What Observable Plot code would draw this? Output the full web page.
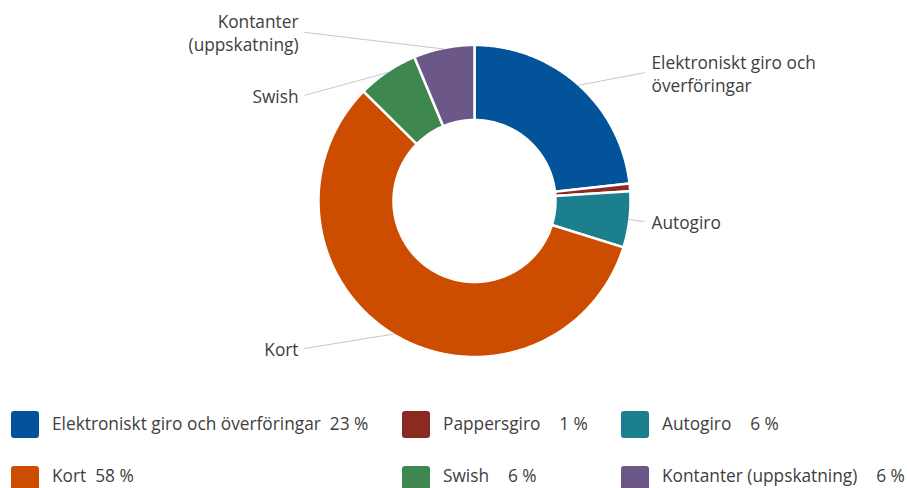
<!DOCTYPE html>
<html>
<head>
<meta charset="utf-8">
<script src="https://cdn.jsdelivr.net/npm/d3@7"></script>
<script src="https://cdn.jsdelivr.net/npm/@observablehq/plot@0.6"></script>
<style>
  html, body { margin: 0; padding: 0; background: #fff; }
  body { width: 907px; height: 488px; overflow: hidden; font-family: "Open Sans", sans-serif; }
  #legend { position: relative; width: 907px; height: 93px; }
  .item { position: absolute; display: flex; align-items: center; height: 28px; }
  .sw { width: 28px; height: 27px; border-radius: 3px; flex: none; }
  .lab { position: absolute; white-space: pre; font-size: 17.3px; color: #404040; line-height: 17px; }
</style>
</head>
<body>
<div id="chart"></div>
<div id="legend"></div>
<script>
// ---- data ----
const names = ["Elektroniskt giro och överföringar", "Pappersgiro", "Autogiro", "Kort", "Swish", "Kontanter (uppskatning)"];
const sliceLabels = ["Elektroniskt giro och\növerföringar", "", "Autogiro", "Kort", "Swish", "Kontanter\n(uppskatning)"];
const values = [23.2, 0.8, 5.8, 57.6, 6.3, 6.3];
const pctLabels = ["23 %", "1 %", "6 %", "58 %", "6 %", "6 %"];
const colors = ["#02539a", "#8b2a20", "#1b7f8e", "#cc4d00", "#3e874f", "#6b5889"];

// ---- layout ----
const W = 907, H = 395, cx = 474, cy = 200.5;
const R = 156, r = 81;
const total = d3.sum(values);

// slice polygons
const polys = [];
const slices = [];
let acc = 0;
values.forEach((v, i) => {
  const a0 = acc / total * 2 * Math.PI;
  acc += v;
  const a1 = acc / total * 2 * Math.PI;
  slices.push({name: names[i], label: sliceLabels[i], a0, a1, mid: (a0 + a1) / 2, v});
  const n = Math.max(2, Math.ceil((a1 - a0) / 0.01));
  const pts = [];
  for (let k = 0; k <= n; k++) { const a = a0 + (a1 - a0) * k / n; pts.push([Math.sin(a) * R, -Math.cos(a) * R]); }
  for (let k = n; k >= 0; k--) { const a = a0 + (a1 - a0) * k / n; pts.push([Math.sin(a) * r, -Math.cos(a) * r]); }
  pts.push(pts[0]);
  pts.forEach(p => polys.push({name: names[i], x: p[0], y: p[1]}));
});

// outer labels
const labR = 172, labX = 170, lineStep = 21;
const labs = slices.filter(s => s.label).map(s => ({
  text: s.label,
  side: Math.sin(s.mid) >= 0 ? 1 : -1,
  ex: Math.sin(s.mid) * (R - 1), ey: -Math.cos(s.mid) * (R - 1),
  y: -Math.cos(s.mid) * labR,
  lines: s.label.split("\n").length
}));
for (const side of [1, -1]) {
  const g = labs.filter(l => l.side === side).sort((a, b) => a.y - b.y);
  for (let k = 1; k < g.length; k++) {
    const minGap = (g[k - 1].lines + g[k].lines) * lineStep;
    if (g[k].y - g[k - 1].y < minGap) g[k].y = g[k - 1].y + minGap;
  }
}
labs.forEach(l => { l.x = l.side * labX; });

const txt = {x: "x", y: "y", text: "text", fontSize: 17.3, lineHeight: 1.33, fill: "#404040", fontFamily: "Open Sans"};
const chart = Plot.plot({
  width: W, height: H,
  margin: 0,
  x: {domain: [-cx, W - cx], range: [0, W], axis: null},
  y: {domain: [-cy, H - cy], range: [0, H], axis: null},
  color: {type: "ordinal", domain: names, range: colors},
  marks: [
    Plot.line(polys, {x: "x", y: "y", z: "name", fill: "name", stroke: "#fff", strokeWidth: 2.5, curve: "linear"}),
    Plot.link(labs, {x1: "ex", y1: "ey", x2: "x", y2: "y", stroke: "#c8c8c8", strokeWidth: 1}),
    Plot.text(labs.filter(l => l.side > 0), {...txt, textAnchor: "start", dx: 7}),
    Plot.text(labs.filter(l => l.side < 0), {...txt, textAnchor: "end", dx: -6})
  ]
});
document.getElementById("chart").appendChild(chart);

// legend
const colX = [11, 402, 621], rowY = [15, 70], textOff = [5, 2];
const leg = document.getElementById("legend");
names.forEach((n, i) => {
  const row = Math.floor(i / 3), col = i % 3;
  const sw = document.createElement("div");
  sw.className = "item";
  sw.style.left = colX[col] + "px";
  sw.style.top = rowY[row] + "px";
  sw.innerHTML = `<div class="sw" style="background:${colors[i]}"></div>`;
  leg.appendChild(sw);
  const t = document.createElement("div");
  t.className = "lab";
  t.style.left = (colX[col] + 41) + "px";
  t.style.top = (rowY[row] + textOff[row]) + "px";
  const num = pctLabels[i].length < 4 ? "\u2007" + pctLabels[i] : pctLabels[i];
  t.textContent = n + "  " + num;
  leg.appendChild(t);
});
</script>
</body>
</html>
